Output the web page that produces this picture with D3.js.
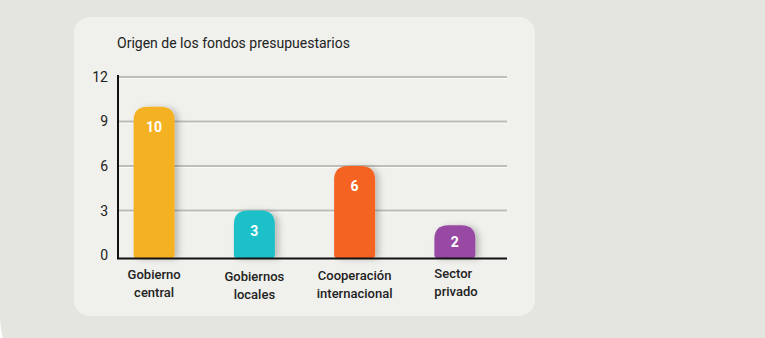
<!DOCTYPE html>
<html>
<head>
<meta charset="utf-8">
<script src="https://cdn.jsdelivr.net/npm/d3@7"></script>
<style>
  html, body { margin: 0; padding: 0; background: #ffffff; }
  svg { display: block; }
  text { font-family: Roboto, "Noto Sans", sans-serif; }
</style>
</head>
<body>
<svg id="chart" width="765" height="338"></svg>
<script>
const title = "Origen de los fondos presupuestarios";
const categories = [["Gobierno", "central"], ["Gobiernos", "locales"], ["Cooperación", "internacional"], ["Sector", "privado"]];
const values = [10, 3, 6, 2];
const colors = ["#f4b222", "#1cc0c9", "#f46424", "#984aa4"];
const yTicks = [0, 3, 6, 9, 12];
const labelAnchors = ["middle", "middle", "middle", "start"];

const svg = d3.select("#chart");

// outer background card
svg.append("rect").attr("x", 0).attr("y", -120).attr("width", 900).attr("height", 512)
  .attr("rx", 75).attr("fill", "#e5e5e0");
// inner panel
svg.append("rect").attr("x", 74).attr("y", 17).attr("width", 461).attr("height", 299)
  .attr("rx", 16).attr("fill", "#f0f0ec");

const defs = svg.append("defs");
const f = defs.append("filter").attr("id", "shadow").attr("x", "-30%").attr("y", "-30%").attr("width", "170%").attr("height", "160%");
f.append("feDropShadow").attr("dx", 4).attr("dy", 1).attr("stdDeviation", 3)
  .attr("flood-color", "#000").attr("flood-opacity", 0.22);

svg.append("text").attr("x", 117).attr("y", 48).attr("font-size", 14).attr("fill", "#222")
  .text(title);

const x = d3.scaleBand().domain(categories.map(c => c.join(" ")))
  .range([104, 505]).paddingInner(0.591).paddingOuter(0.2955);
const y = d3.scaleLinear().domain([-0.2, 12]).range([258, 77]);
const x0 = 118, x1 = 507;
const baseY = 258;

// gridlines
const grid = svg.append("g");
yTicks.filter(t => t > 0).forEach(t => {
  grid.append("line").attr("x1", x0).attr("x2", x1).attr("y1", y(t) + 1.5).attr("y2", y(t) + 1.5)
    .attr("stroke", "#fbfbf8").attr("stroke-width", 1);
  grid.append("line").attr("x1", x0).attr("x2", x1).attr("y1", y(t)).attr("y2", y(t))
    .attr("stroke", "#bdbdb9").attr("stroke-width", 2);
});

// y axis labels
const yAxis = d3.axisLeft(y).tickValues(yTicks).tickSize(0).tickPadding(10);
const ga = svg.append("g").attr("transform", `translate(${x0},0)`).call(yAxis);
ga.select(".domain").remove();
ga.selectAll("text").attr("font-size", 14).attr("fill", "#222")
  .style("font-family", "Roboto, sans-serif");

// bars
function barPath(x, y, w, h, rt, rb) {
  rt = Math.min(rt, h / 2, w / 2);
  return `M${x},${y + h - rb} L${x},${y + rt} Q${x},${y} ${x + rt},${y} L${x + w - rt},${y} Q${x + w},${y} ${x + w},${y + rt} L${x + w},${y + h - rb} Q${x + w},${y + h} ${x + w - rb},${y + h} L${x + rb},${y + h} Q${x},${y + h} ${x},${y + h - rb} Z`;
}
const bars = svg.append("g");
values.forEach((v, i) => {
  const key = categories[i].join(" ");
  const bx = x(key), bw = x.bandwidth();
  const top = y(v), h = baseY - top;
  bars.append("path").attr("d", barPath(bx, top, bw, h, 14, 3))
    .attr("fill", colors[i]).attr("filter", "url(#shadow)");
  const ly = Math.min(top + 20, top + h / 2);
  bars.append("text").attr("x", bx + bw / 2).attr("y", ly).attr("dy", "0.36em")
    .attr("text-anchor", "middle").attr("font-size", 14).attr("font-weight", 700)
    .attr("fill", "#fff").text(d3.format("d")(v));
});

// axes lines
svg.append("line").attr("x1", x0).attr("x2", x0).attr("y1", 75).attr("y2", 259)
  .attr("stroke", "#111").attr("stroke-width", 2);
svg.append("line").attr("x1", x0 - 1).attr("x2", x1).attr("y1", baseY + 0.5).attr("y2", baseY + 0.5)
  .attr("stroke", "#111").attr("stroke-width", 2);

// category labels
const labelOffsets = [0, 2, 1, -1];
categories.forEach((c, i) => {
  const key = c.join(" ");
  const lx = labelAnchors[i] === "start" ? x(key) : x(key) + x.bandwidth() / 2;
  const t = svg.append("text").attr("text-anchor", labelAnchors[i]).attr("font-size", 13)
    .attr("font-weight", 500).attr("fill", "#222");
  c.forEach((line, j) => {
    t.append("tspan").attr("x", lx).attr("y", 278.5 + labelOffsets[i] + j * 18).text(line);
  });
});
</script>
</body>
</html>
